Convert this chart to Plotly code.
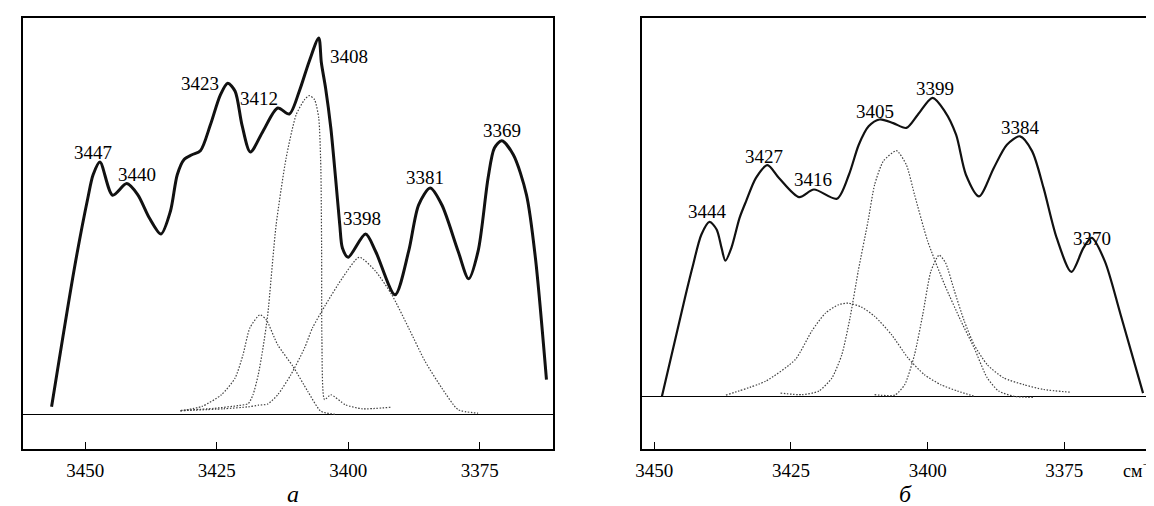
import plotly.graph_objects as go

# ---------------- data ----------------
tick_values = [3450, 3425, 3400, 3375]
tick_labels = ["3450", "3425", "3400", "3375"]

# panel a: measured spectrum (solid) and three fitted components (dotted)
a_solid_x = [3456.4, 3452.0, 3449.5, 3448.5, 3447.2, 3444.8, 3442.1, 3440.0, 3437.8, 3435.6,
             3433.8, 3432.5, 3431.2, 3429.7, 3428.1, 3426.2, 3424.3, 3422.9, 3421.5, 3420.2,
             3418.6, 3416.2, 3413.4, 3411.2, 3409.3, 3407.4, 3405.6, 3405.1, 3404.3, 3403.3,
             3402.4, 3401.6, 3401.1, 3400.0, 3396.7, 3394.8, 3391.1, 3388.5, 3386.6, 3384.4,
             3382.2, 3379.1, 3377.1, 3375.3, 3373.4, 3372.2, 3370.8, 3368.6, 3366.1, 3364.4, 3362.3]
a_solid_y = [1.8, 36.9, 54.0, 59.8, 63.0, 54.7, 57.6, 54.8, 49.0, 45.0,
             50.7, 59.8, 63.6, 64.8, 65.8, 72.3, 79.8, 82.7, 80.7, 72.3,
             65.5, 70.7, 76.5, 75.0, 80.7, 88.2, 94.0, 87.8, 81.5, 71.5,
             59.0, 47.3, 41.5, 39.2, 45.0, 40.7, 29.8, 40.7, 52.3, 56.5,
             52.3, 40.7, 33.8, 40.7, 59.0, 66.5, 68.3, 64.8, 54.8, 39.0, 8.6]

a_c1_x = [3431.9, 3427.8, 3424.1, 3421.5, 3420.0, 3418.7, 3416.8, 3415.6, 3413.4, 3410.5, 3407.7, 3405.2, 3402.4]
a_c1_y = [0.8, 1.9, 4.8, 9.0, 14.8, 21.5, 24.8, 23.6, 17.3, 11.9, 5.7, 0.7, -0.1]

a_c2_x = [3431.8, 3425.6, 3420.9, 3419.0, 3418.1, 3417.1, 3416.2, 3415.3, 3413.7, 3411.8, 3409.9, 3408.3,
          3407.4, 3406.4, 3405.6, 3405.2, 3405.05, 3405.0, 3404.5, 3403.3, 3400.5, 3397.3, 3391.8]
a_c2_y = [0.9, 1.4, 2.1, 2.6, 4.8, 9.8, 16.5, 24.8, 47.3, 64.0, 74.8, 78.6,
          79.6, 78.6, 74.0, 61.5, 40.7, 19.0, 3.6, 4.8, 2.3, 1.3, 1.7]

a_c3_x = [3431.9, 3423.7, 3419.0, 3417.1, 3415.3, 3413.4, 3410.9, 3408.3, 3406.8, 3404.3, 3401.1, 3397.9,
          3394.8, 3391.7, 3388.5, 3385.4, 3382.2, 3379.1, 3375.3]
a_c3_y = [0.8, 1.3, 1.8, 2.2, 2.5, 4.8, 9.8, 16.5, 21.5, 27.3, 34.0, 39.2,
          35.7, 29.8, 21.5, 13.2, 6.5, 1.1, 0.2]

a_peak_text = ["3447", "3440", "3423", "3412", "3408", "3398", "3381", "3369"]

# panel б
b_solid_x = [3448.6, 3444.4, 3442.9, 3441.4, 3439.9, 3438.6, 3437.7, 3437.0, 3435.9, 3434.4,
             3433.2, 3431.4, 3429.3, 3427.2, 3423.5, 3420.8, 3416.6, 3414.4, 3412.6, 3410.8,
             3408.8, 3406.3, 3403.9, 3401.8, 3399.1, 3396.9, 3394.8, 3393.0, 3390.6, 3387.9,
             3385.5, 3383.1, 3380.9, 3378.8, 3376.4, 3373.7, 3371.5, 3370.0, 3367.6, 3364.7, 3360.6]
b_solid_y = [0.0, 24.6, 32.9, 40.4, 43.6, 41.7, 37.1, 33.9, 37.1, 44.6,
             48.8, 54.6, 57.8, 54.6, 49.8, 51.7, 49.4, 55.4, 62.9, 67.5,
             69.2, 68.3, 67.1, 70.4, 74.6, 71.3, 65.4, 55.4, 50.0, 57.1,
             62.9, 65.0, 61.3, 52.1, 39.6, 31.1, 37.1, 39.6, 33.8, 20.4, 0.8]

b_c1_x = [3436.9, 3429.6, 3424.2, 3421.2, 3418.7, 3416.3, 3414.5, 3412.1, 3409.7, 3406.6, 3403.6, 3400.6,
          3397.6, 3394.5, 3391.5]
b_c1_y = [0.3, 3.8, 9.2, 16.3, 20.8, 22.9, 23.3, 22.3, 20.0, 15.4, 9.6, 5.4, 2.9, 1.3, 0.0]

b_c2_x = [3426.9, 3423.0, 3419.9, 3417.5, 3415.7, 3414.2, 3412.7, 3410.9, 3409.7, 3408.1, 3405.7, 3403.9,
          3402.4, 3400.0, 3396.9, 3393.9, 3391.5, 3389.1, 3387.0, 3384.2, 3380.6]
b_c2_y = [0.8, 0.4, 1.3, 4.6, 10.4, 19.6, 31.3, 43.8, 52.9, 58.8, 61.4, 57.9,
          50.4, 38.8, 27.9, 18.8, 12.1, 4.6, 1.3, 0.0, -0.3]

b_c3_x = [3409.7, 3406.0, 3404.2, 3402.4, 3400.9, 3399.4, 3397.9, 3396.7, 3395.1, 3393.3, 3391.5, 3389.1,
          3386.1, 3382.4, 3378.8, 3373.7]
b_c3_y = [0.4, 0.3, 2.9, 10.4, 20.4, 31.3, 35.3, 33.3, 26.3, 18.8, 12.9, 7.9,
          4.6, 2.9, 1.7, 1.0]

b_peak_text = ["3444", "3427", "3416", "3405", "3399", "3384", "3370"]

panel_labels = ["а", "б"]
unit_label = "см<sup>−1</sup>"

# ---------------- layout positions (label anchors in data units) ----------------
a_label_pos = [(3448.5, 65.3), (3440.2, 60.0), (3428.1, 82.6), (3417.0, 78.9),
               (3399.8, 89.4), (3397.3, 49.0), (3385.4, 59.2), (3370.8, 70.8)]
b_label_pos = [(3440.3, 46.1), (3429.9, 59.9), (3420.9, 54.3), (3409.6, 71.2),
               (3398.6, 76.9), (3383.1, 67.2), (3370.0, 39.4)]

W, H = 1154, 506
FONT = "Liberation Serif, DejaVu Serif, serif"
DOT = "1.5px,1.6px"

fig = go.Figure()

def add_panel(xs, ys, comps, xa, ya, lw):
    for cx, cy in comps:
        fig.add_trace(go.Scatter(x=cx, y=cy, mode="lines", xaxis=xa, yaxis=ya,
                                 line=dict(color="#404040", width=1.2, dash=DOT,
                                           shape="spline", smoothing=0.6),
                                 hoverinfo="skip", showlegend=False))
    fig.add_trace(go.Scatter(x=xs, y=ys, mode="lines", xaxis=xa, yaxis=ya,
                             line=dict(color="#111111", width=lw, shape="spline", smoothing=0.8),
                             hoverinfo="skip", showlegend=False))

add_panel(a_solid_x, a_solid_y, [(a_c1_x, a_c1_y), (a_c2_x, a_c2_y), (a_c3_x, a_c3_y)], "x", "y", 3.0)
add_panel(b_solid_x, b_solid_y, [(b_c1_x, b_c1_y), (b_c2_x, b_c2_y), (b_c3_x, b_c3_y)], "x2", "y2", 2.2)

ydom = [(H - 441) / H, (H - 10) / H]

xcommon = dict(showgrid=False, zeroline=False, showline=True, mirror=True,
               linecolor="black", linewidth=1.5, ticks="inside", ticklen=7,
               tickwidth=1.3, tickcolor="black", tickvals=tick_values, ticktext=tick_labels,
               tickfont=dict(family=FONT, size=19, color="black"), ticklabelstandoff=3)
ycommon = dict(showgrid=False, zeroline=True, zerolinecolor="black", zerolinewidth=1.4,
               showline=True, mirror=True, linecolor="black", linewidth=1.5,
               showticklabels=False, ticks="", domain=ydom)

fig.update_layout(
    width=W, height=H,
    margin=dict(l=0, r=0, t=0, b=0),
    paper_bgcolor="white", plot_bgcolor="white",
    showlegend=False,
    xaxis=dict(domain=[7.7 / W, 542 / W], range=[3461.9, 3361.1], anchor="y", **xcommon),
    yaxis=dict(range=[-8.75, 99.0], anchor="x", **ycommon),
    xaxis2=dict(domain=[632.2 / W, 1.0], range=[3452.2, 3357.5], anchor="y2", **xcommon),
    yaxis2=dict(range=[-13.18, 94.58], anchor="x2", **ycommon),
)

annots = []
for t, (lx, ly) in zip(a_peak_text, a_label_pos):
    annots.append(dict(x=lx, y=ly, xref="x", yref="y", text=t, showarrow=False,
                       xanchor="center", yanchor="middle",
                       font=dict(family=FONT, size=19, color="black")))
for t, (lx, ly) in zip(b_peak_text, b_label_pos):
    annots.append(dict(x=lx, y=ly, xref="x2", yref="y2", text=t, showarrow=False,
                       xanchor="center", yanchor="middle",
                       font=dict(family=FONT, size=19, color="black")))
annots.append(dict(x=280 / W, y=(H - 486) / H, xref="paper", yref="paper",
                   text="<i>" + panel_labels[0] + "</i>", xanchor="center", yanchor="middle",
                   showarrow=False, font=dict(family=FONT, size=24, color="black")))
annots.append(dict(x=898 / W, y=(H - 486) / H, xref="paper", yref="paper",
                   text="<i>" + panel_labels[1] + "</i>", xanchor="center", yanchor="middle",
                   showarrow=False, font=dict(family=FONT, size=24, color="black")))
annots.append(dict(x=1152 / W, y=(H - 461) / H, xref="paper", yref="paper", text=unit_label,
                   xanchor="right", yanchor="middle", showarrow=False,
                   font=dict(family=FONT, size=18, color="black")))
fig.update_layout(annotations=annots)

fig.write_html("out.html")
